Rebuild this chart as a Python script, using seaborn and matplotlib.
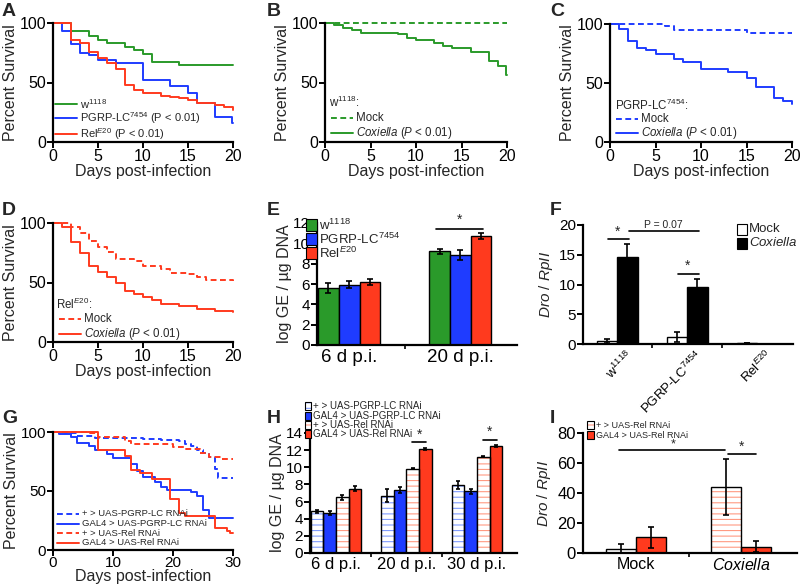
import numpy as np
import pandas as pd
import matplotlib
matplotlib.use('Agg')
import matplotlib.pyplot as plt
import seaborn as sns
from matplotlib.lines import Line2D
from matplotlib.patches import Rectangle
from matplotlib.ticker import FixedLocator
import matplotlib.transforms as mtrans

sns.set_theme(style='ticks')
plt.rcParams['font.family'] = ['Liberation Sans', 'DejaVu Sans']
plt.rcParams['mathtext.fontset'] = 'custom'
plt.rcParams['mathtext.rm'] = 'Liberation Sans'
plt.rcParams['mathtext.it'] = 'Liberation Sans:italic'
plt.rcParams['mathtext.bf'] = 'Liberation Sans:bold'
plt.rcParams['hatch.linewidth'] = 0.8

# ---------------- data ----------------
GREEN = '#2a9a2a'
BLUE = '#1f3cff'
RED = '#ff3a1e'
LBLUE = '#7f9bff'
LRED = '#ff9a82'

# Panel A
a_w_t = [0, 2, 4, 5, 6, 8, 9, 10, 11, 14, 20]
a_w_s = [100, 93, 89, 86, 83, 80, 77, 74, 67, 65, 65]
a_p_t = [0, 1, 2, 3, 4, 5, 7, 10, 13, 15, 16, 18, 19.9, 20]
a_p_s = [100, 93, 82, 75, 73, 69, 66, 52, 47, 41, 33, 21, 16, 16]
a_r_t = [0, 2, 3, 4, 5, 6, 7, 8, 9, 10, 12, 13, 14, 15, 16, 18, 19, 20]
a_r_s = [100, 86, 83, 76, 71, 66, 61, 48, 44, 41, 39, 38, 37, 35, 33, 31, 29, 27]
# Panel B
b_mock_t = [0, 20]
b_mock_s = [100, 100]
b_cox_t = [0, 1, 2, 3, 4, 8, 9, 10, 12, 13, 14, 16, 18, 19, 19.9, 20]
b_cox_s = [100, 98, 96, 94, 92, 91, 87, 86, 83, 81, 79, 76, 68, 64, 56, 56]
# Panel C
c_mock_t = [0, 6, 7, 15, 20]
c_mock_s = [100, 98, 95, 92, 92]
c_cox_t = [0, 1, 2, 3, 4, 5, 7, 8, 10, 13, 15, 16, 18, 19, 20]
c_cox_s = [100, 96, 86, 80, 78, 75, 70, 68, 62, 59, 54, 47, 37, 35, 32]
# Panel D
d_mock_t = [0, 2, 3, 4, 5, 6, 7, 9, 10, 12, 13, 15, 16, 17, 20]
d_mock_s = [100, 97, 92, 85, 80, 76, 70, 68, 64, 61, 58, 57, 55, 52, 51]
d_cox_t = [0, 1, 2, 3, 4, 5, 6, 7, 8, 9, 10, 11, 12, 14, 16, 18, 20]
d_cox_s = [100, 97, 84, 75, 64, 59, 55, 50, 43, 40, 38, 35, 32, 30, 28, 26, 25]
# Panel G
g_pc_t = [0, 2, 4, 7, 15, 18, 21, 22, 23, 24, 25, 26, 27, 27.5, 30]
g_pc_s = [100, 99, 97, 95, 94, 93, 92, 90, 88, 85, 82, 79, 69, 61, 61]
g_rc_t = [0, 6, 7.5, 12, 13, 20, 22, 24.5, 26, 28, 30]
g_rc_s = [100, 99, 96, 92, 90, 87, 86, 82, 79, 77, 77]
g_pg_t = [0, 1, 3, 4, 6, 7, 9, 10, 13, 14, 15, 17, 18, 19, 23, 24, 25, 26, 30]
g_pg_s = [100, 98, 96, 91, 88, 85, 81, 78, 73, 67, 62, 58, 53, 51, 49, 46, 34, 27, 27]
g_rg_t = [0, 7.5, 12, 13, 14.5, 16.5, 19.5, 21, 22, 27, 29, 29.5, 30]
g_rg_s = [100, 85, 80, 68, 65, 60, 43, 31, 29, 19, 16, 14, 14]

# Panel E
e_groups = ['6 d p.i.', '20 d p.i.']
e_strains = ['w1118', 'PGRP-LC7454', 'RelE20']
e_means = {'w1118': [5.6, 9.2], 'PGRP-LC7454': [5.95, 8.85], 'RelE20': [6.2, 10.7]}
e_errs = {'w1118': [0.45, 0.2], 'PGRP-LC7454': [0.3, 0.45], 'RelE20': [0.3, 0.3]}
# Panel F
f_strains = [r'w$^{1118}$', r'PGRP-LC$^{7454}$', r'Rel$^{E20}$']
f_treat = ['Mock', 'Coxiella']
f_means = {'Mock': [0.55, 1.2, 0.2], 'Coxiella': [14.6, 9.6, 0.05]}
f_errs = {'Mock': [0.35, 0.8, 0.05], 'Coxiella': [2.2, 1.4, 0.0]}
# Panel H
h_groups = ['6 d p.i.', '20 d p.i.', '30 d p.i.']
h_lines = ['+ > UAS-PGRP-LC RNAi', 'GAL4 > UAS-PGRP-LC RNAi', '+ > UAS-Rel RNAi', 'GAL4 > UAS-Rel RNAi']
h_means = {h_lines[0]: [4.85, 6.7, 7.9], h_lines[1]: [4.7, 7.4, 7.2],
           h_lines[2]: [6.5, 9.85, 11.25], h_lines[3]: [7.5, 12.15, 12.5]}
h_errs = {h_lines[0]: [0.2, 0.75, 0.45], h_lines[1]: [0.25, 0.35, 0.3],
          h_lines[2]: [0.3, 0.1, 0.05], h_lines[3]: [0.3, 0.1, 0.15]}
# Panel I
i_groups = ['Mock', 'Coxiella']
i_lines = ['+ > UAS-Rel RNAi', 'GAL4 > UAS-Rel RNAi']
i_means = {i_lines[0]: [2.7, 44.0], i_lines[1]: [10.5, 4.3]}
i_errs = {i_lines[0]: [3.5, 18.5], i_lines[1]: [7.0, 3.4]}

# ---------------- figure ----------------
W, H = 800, 587
fig = plt.figure(figsize=(W / 100, H / 100), dpi=100)


def add_ax(l, t, r, b):
    return fig.add_axes([l / W, 1 - b / H, (r - l) / W, (b - t) / H])


def style(ax, fs=10):
    sns.despine(ax=ax)
    for s in ['left', 'bottom']:
        ax.spines[s].set_linewidth(1.6)
        ax.spines[s].set_color('black')
    ax.tick_params(direction='out', length=4, width=1.4, labelsize=fs, pad=1, colors='black')
    ax.set_facecolor('none')


def letter(x, y, s):
    fig.text(x / W, 1 - y / H, s, fontsize=14, fontweight='bold', va='top', ha='left')


def leg_line(x0, x1, y, color, ls, text, fs=8):
    fig.add_artist(Line2D([x0 / W, x1 / W], [1 - y / H, 1 - y / H], color=color,
                          linestyle=ls, lw=1.4))
    fig.text((x1 + 3) / W, 1 - y / H, text, fontsize=fs, va='center', ha='left')


def leg_box(x, y, color, text, fs=7, hatch=None, size=(6, 9)):
    w, h = size
    if hatch:
        fig.add_artist(Rectangle((x / W, 1 - (y + h / 2) / H), w / W, h / H,
                                 transform=fig.transFigure, facecolor='white',
                                 edgecolor=color, hatch=hatch, lw=0))
        fig.add_artist(Rectangle((x / W, 1 - (y + h / 2) / H), w / W, h / H,
                                 transform=fig.transFigure, fill=False,
                                 edgecolor='black', lw=0.8))
    else:
        fig.add_artist(Rectangle((x / W, 1 - (y + h / 2) / H), w / W, h / H,
                                 transform=fig.transFigure, facecolor=color,
                                 edgecolor='black', lw=0.8))
    fig.text((x + w + 2) / W, 1 - y / H, text, fontsize=fs, va='center', ha='left')


DASH = (0, (3, 1.8))


def surv(ax, series, xmax, xticks, tfs=11.5, lpad=0):
    for t, s, c, ls in series:
        sns.lineplot(x=t, y=s, ax=ax, color=c, linestyle=ls, drawstyle='steps-post',
                     estimator=None, sort=False, lw=1.4, clip_on=False)
    ax.set_xlim(0, xmax)
    ax.set_ylim(0, 100)
    ax.set_xticks(xticks)
    ax.set_yticks([0, 50, 100])
    style(ax, fs=tfs)
    ax.set_ylabel('Percent Survival', fontsize=11.5, labelpad=1)
    ax.set_xlabel('Days post-infection', fontsize=11.5, labelpad=lpad)


# A
axA = add_ax(53, 23, 233, 142)
surv(axA, [(a_w_t, a_w_s, GREEN, '-'), (a_p_t, a_p_s, BLUE, '-'), (a_r_t, a_r_s, RED, '-')],
     20, [0, 5, 10, 15, 20])
letter(2, 3, 'A')
leg_line(55, 77, 104, GREEN, '-', r'w$^{1118}$')
leg_line(55, 77, 118, BLUE, '-', r'PGRP-LC$^{7454}$ (P < 0.01)')
leg_line(55, 77, 134, RED, '-', r'Rel$^{E20}$ (P < 0.01)')

# B
axB = add_ax(325, 23, 507, 142)
surv(axB, [(b_mock_t, b_mock_s, GREEN, DASH), (b_cox_t, b_cox_s, GREEN, '-')],
     20, [0, 5, 10, 15, 20])
letter(267, 3, 'B')
fig.text(329 / W, 1 - 102 / H, r'w$^{1118}$:', fontsize=8.3, va='center')
leg_line(331, 353, 118, GREEN, DASH, 'Mock', fs=8.3)
leg_line(331, 353, 133, GREEN, '-', r'$\it{Coxiella}$ ($\it{P}$ < 0.01)', fs=8.3)

# C
axC = add_ax(610, 24, 792, 142)
surv(axC, [(c_mock_t, c_mock_s, BLUE, DASH), (c_cox_t, c_cox_s, BLUE, '-')],
     20, [0, 5, 10, 15, 20])
letter(550, 3, 'C')
fig.text(615 / W, 1 - 105 / H, r'PGRP-LC$^{7454}$:', fontsize=8.3, va='center')
leg_line(616, 638, 119, BLUE, DASH, 'Mock', fs=8.3)
leg_line(616, 638, 133, BLUE, '-', r'$\it{Coxiella}$ ($\it{P}$ < 0.01)', fs=8.3)

# D
axD = add_ax(53, 223, 233, 342)
surv(axD, [(d_mock_t, d_mock_s, RED, DASH), (d_cox_t, d_cox_s, RED, '-')],
     20, [0, 5, 10, 15, 20])
letter(2, 202, 'D')
fig.text(56 / W, 1 - 304 / H, r'Rel$^{E20}$:', fontsize=8.3, va='center')
leg_line(59, 81, 319, RED, DASH, 'Mock', fs=8.3)
leg_line(59, 81, 334, RED, '-', r'$\it{Coxiella}$ ($\it{P}$ < 0.01)', fs=8.3)

# G
axG = add_ax(53, 432, 233, 550)
surv(axG, [(g_pc_t, g_pc_s, BLUE, DASH), (g_rc_t, g_rc_s, RED, DASH),
           (g_pg_t, g_pg_s, BLUE, '-'), (g_rg_t, g_rg_s, RED, '-')],
     30, [0, 10, 20, 30], tfs=11, lpad=-0.5)
axG.tick_params(axis='x', pad=0)
letter(2, 410, 'G')
leg_line(57, 79, 514, BLUE, DASH, h_lines[0], fs=6.8)
leg_line(57, 79, 523.5, BLUE, '-', h_lines[1], fs=6.8)
leg_line(57, 79, 533, RED, DASH, h_lines[2], fs=6.8)
leg_line(57, 79, 542.5, RED, '-', h_lines[3], fs=6.8)


def bar_errors(ax, errs_list, capsize=2):
    for cont, errs in zip(ax.containers, errs_list):
        xs = [p.get_x() + p.get_width() / 2 for p in cont]
        hs = [p.get_height() for p in cont]
        ax.errorbar(xs, hs, yerr=errs, fmt='none', ecolor='black', elinewidth=1.2,
                    capsize=capsize, capthick=1.2, zorder=5)


def bar_axes(ax, xlim, ylim, yticks, bounds, fs=10):
    ax.set_xlim(*xlim)
    ax.set_ylim(*ylim)
    ax.set_yticks(yticks)
    style(ax, fs=fs)
    ax.xaxis.set_minor_locator(FixedLocator(bounds))
    ax.tick_params(axis='x', which='major', length=0, pad=3)
    ax.tick_params(axis='x', which='minor', length=3, width=1.2, direction='out', colors='black')
    ax.set_xlabel('')


def hatch_container(ax, cont, color):
    for p in cont:
        p.set_facecolor('white')
        p.set_edgecolor(color)
        p.set_hatch('---')
        p.set_linewidth(0)
        ax.add_patch(Rectangle(p.get_xy(), p.get_width(), p.get_height(), fill=False,
                               edgecolor='black', lw=1.0, zorder=p.get_zorder() + 0.1))


# E
axE = add_ax(317, 223, 517, 345)
dfE = pd.DataFrame([{'group': g, 'strain': s, 'val': e_means[s][i]}
                    for s in e_strains for i, g in enumerate(e_groups)])
sns.barplot(data=dfE, x='group', y='val', hue='strain', hue_order=e_strains, order=e_groups,
            palette=[GREEN, BLUE, RED], saturation=1, width=0.56, errorbar=None,
            edgecolor='black', linewidth=1.0, legend=False, ax=axE)
bar_errors(axE, [e_errs[s] for s in e_strains])
bar_axes(axE, (-0.29, 1.51), (0, 12), [0, 2, 4, 6, 8, 10, 12], [0.5], fs=11)
axE.tick_params(axis='x', which='major', labelsize=13.5)
axE.set_ylabel('log GE / µg DNA', fontsize=11.5, labelpad=1)
axE.plot([0.78, 1.2], [11.45, 11.45], color='black', lw=1.2, clip_on=False)
axE.text(0.99, 11.6, '*', ha='center', va='bottom', fontsize=10)
letter(267, 202, 'E')
leg_box(306, 225, GREEN, r'w$^{1118}$', fs=9.5, size=(11, 12))
leg_box(306, 239, BLUE, r'PGRP-LC$^{7454}$', fs=9.5, size=(11, 12))
leg_box(306, 253, RED, r'Rel$^{E20}$', fs=9.5, size=(11, 12))

# F
axF = add_ax(583, 225, 793, 344)
dfF = pd.DataFrame([{'strain': s, 'treat': t, 'val': f_means[t][i]}
                    for t in f_treat for i, s in enumerate(f_strains)])
sns.barplot(data=dfF, x='strain', y='val', hue='treat', hue_order=f_treat, order=f_strains,
            palette=['white', 'black'], saturation=1, width=0.58, errorbar=None,
            edgecolor='black', linewidth=1.0, legend=False, ax=axF)
bar_errors(axF, [f_errs[t] for t in f_treat])
bar_axes(axF, (-0.49, 2.51), (0, 20), [0, 5, 10, 15, 20], [0.5, 1.5], fs=11)
axF.set_xticks(range(3))
axF.set_xticklabels(f_strains, rotation=45, ha='right', rotation_mode='anchor', fontsize=9.5)
shift = mtrans.ScaledTranslation(8 / 100, 0, fig.dpi_scale_trans)
for lab in axF.get_xticklabels():
    lab.set_transform(lab.get_transform() + shift)
axF.set_ylabel(r'$\it{Dro}$ / $\it{RpII}$', fontsize=11, labelpad=3)
axF.plot([-0.14, 0.16], [17.6, 17.6], color='black', lw=1.2, clip_on=False)
axF.text(0.01, 17.7, '*', ha='center', va='bottom', fontsize=10)
axF.plot([0.17, 1.16], [19.0, 19.0], color='black', lw=1.2, clip_on=False)
axF.text(0.66, 19.2, 'P = 0.07', ha='center', va='bottom', fontsize=7.5)
axF.plot([0.86, 1.16], [11.8, 11.8], color='black', lw=1.2, clip_on=False)
axF.text(1.01, 11.9, '*', ha='center', va='bottom', fontsize=10)
letter(550, 202, 'F')
leg_box(737, 229, 'white', 'Mock', fs=9.5, size=(10, 11))
leg_box(737, 243, 'black', r'$\it{Coxiella}$', fs=9.5, size=(10, 11))

# H
axH = add_ax(310, 433, 517, 553)
dfH = pd.DataFrame([{'group': g, 'line': l, 'val': h_means[l][i]}
                    for l in h_lines for i, g in enumerate(h_groups)])
sns.barplot(data=dfH, x='group', y='val', hue='line', hue_order=h_lines, order=h_groups,
            palette=['white', BLUE, 'white', RED], saturation=1, width=0.72, errorbar=None,
            edgecolor='black', linewidth=1.0, legend=False, ax=axH)
hatch_container(axH, axH.containers[0], LBLUE)
hatch_container(axH, axH.containers[2], LRED)
bar_errors(axH, [h_errs[l] for l in h_lines], capsize=1.5)
bar_axes(axH, (-0.37, 2.57), (0, 14), list(range(0, 15, 2)), [0.5, 1.5], fs=11)
axH.tick_params(axis='x', which='major', labelsize=12)
axH.set_ylabel('log GE / µg DNA', fontsize=11.5, labelpad=1)
axH.plot([1.08, 1.28], [12.9, 12.9], color='black', lw=1.2, clip_on=False)
axH.text(1.18, 13.0, '*', ha='center', va='bottom', fontsize=10)
axH.plot([2.08, 2.29], [13.2, 13.2], color='black', lw=1.2, clip_on=False)
axH.text(2.185, 13.3, '*', ha='center', va='bottom', fontsize=10)
letter(267, 410, 'H')
leg_box(305, 406, LBLUE, h_lines[0], fs=7, hatch='---', size=(6, 8))
leg_box(305, 416, BLUE, h_lines[1], fs=7, size=(6, 8))
leg_box(305, 425, LRED, h_lines[2], fs=7, hatch='---', size=(6, 8))
leg_box(305, 434, RED, h_lines[3], fs=7, size=(6, 8))

# I
axI = add_ax(583, 433, 797, 553)
dfI = pd.DataFrame([{'group': g, 'line': l, 'val': i_means[l][i]}
                    for l in i_lines for i, g in enumerate(i_groups)])
sns.barplot(data=dfI, x='group', y='val', hue='line', hue_order=i_lines, order=i_groups,
            palette=['white', RED], saturation=1, width=0.57, errorbar=None,
            edgecolor='black', linewidth=1.0, legend=False, ax=axI)
hatch_container(axI, axI.containers[0], LRED)
bar_errors(axI, [i_errs[l] for l in i_lines], capsize=2)
bar_axes(axI, (-0.505, 1.53), (0, 80), [0, 20, 40, 60, 80], [0.5], fs=12)
axI.set_xticks([0, 1])
axI.set_xticklabels(['Mock', r'$\it{Coxiella}$'], fontsize=11.5)
axI.set_ylabel(r'$\it{Dro}$ / $\it{RpII}$', fontsize=11, labelpad=3)
axI.plot([-0.16, 0.85], [68.7, 68.7], color='black', lw=1.2, clip_on=False)
axI.text(0.35, 68.6, '*', ha='center', va='bottom', fontsize=9)
axI.plot([0.87, 1.14], [66, 66], color='black', lw=1.2, clip_on=False)
axI.text(1.0, 66.3, '*', ha='center', va='bottom', fontsize=10)
letter(550, 410, 'I')
leg_box(587, 425, LRED, i_lines[0], fs=6.5, hatch='---', size=(7, 8))
leg_box(587, 435, RED, i_lines[1], fs=6.5, size=(7, 8))

fig.savefig('out.png', dpi=100)
